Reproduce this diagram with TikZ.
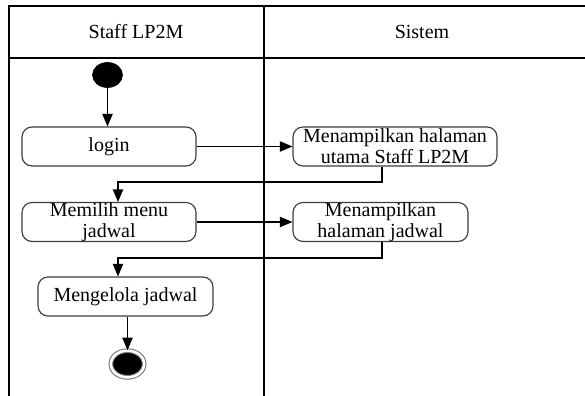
\documentclass[tikz,border=0pt]{standalone}
\usepackage{fontspec}
\setmainfont{Liberation Serif}
\usetikzlibrary{arrows,shapes.geometric}
\definecolor{act_gray}{RGB}{60, 60, 60}
\definecolor{end_gray}{RGB}{110, 110, 110}
\tikzstyle{act}=[rectangle,rounded corners=6pt,draw=act_gray,
  line width=0.7 pt,align=center,inner sep=0pt,minimum height=23.4pt,
  font=\fontsize{12}{12.5}\selectfont]
\tikzstyle{lane}=[font=\fontsize{12}{12.5}\selectfont]
\tikzstyle{start}=[ellipse,fill=black,draw=black,inner sep=0pt,
  minimum width=18pt,minimum height=15pt]
\tikzstyle{stop}=[ellipse,fill=black,draw=end_gray,double=white,
  double distance=1.6pt,line width=0.6pt,inner sep=0pt,
  minimum width=20pt,minimum height=16pt]
\tikzstyle{flow}=[-triangle 45,line width=0.7pt]
\tikzstyle{none}=[]

\begin{document}
\begin{tikzpicture}[x=0.6pt,y=-0.6pt]
            \useasboundingbox (0, 0) rectangle (585, 396);
            % swimlanes
            \draw [line width=1.5pt] (9, 396) -- (9, 6) -- (585, 6);
            \draw [line width=0.8pt] (9, 58) -- (585, 58);
            \draw [line width=0.8pt] (264, 6) -- (264, 396);
            \node [style=lane] (h1) at (136, 32) {Staff LP2M};
            \node [style=lane] (h2) at (422, 32) {Sistem};
            % activities
            \node [style=start] (0) at (107.5, 75) {};
            \node [style=act, minimum width=104.4pt] (1) at (109, 146.5) {login};
            \node [style=act, minimum width=122.4pt] (2) at (395, 146.5) {Menampilkan halaman\\utama Staff LP2M};
            \node [style=act, minimum width=104.4pt] (3) at (109, 222) {Memilih menu\\jadwal};
            \node [style=act, minimum width=105pt] (4) at (380.5, 222) {Menampilkan\\halaman jadwal};
            \node [style=act, minimum width=105pt] (5) at (125.5, 296.5) {Mengelola jadwal};
            \node [style=stop] (6) at (127.5, 364) {};
            \coordinate (7) at (382, 182);
            \coordinate (8) at (118, 182);
            \coordinate (9) at (382, 258);
            \coordinate (10) at (118, 258);
            \draw [style=flow] (0) -- (0 |- 1.north);
            \draw [style=flow] (1) -- (2);
            \draw [style=flow] (7 |- 2.south) -- (7) -- (8) -- (8 |- 3.north);
            \draw [style=flow] (3) -- (4);
            \draw [style=flow] (9 |- 4.south) -- (9) -- (10) -- (10 |- 5.north);
            \draw [style=flow] (5.south -| 6) -- (6);
    \end{tikzpicture}
\end{document}
